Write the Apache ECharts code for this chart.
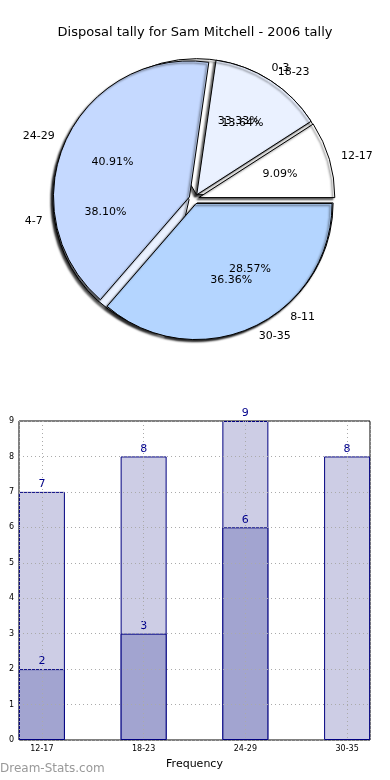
<!DOCTYPE html>
<html><head><meta charset="utf-8">
<script src="https://cdn.jsdelivr.net/npm/echarts@6/dist/echarts.min.js"></script>
<style>html,body{margin:0;padding:0;background:#fff}#c{width:390px;height:780px}</style>
</head><body><div id="c"></div>
<script>
var titleText = 'Disposal tally for Sam Mitchell - 2006 tally';
var pieFrontNames = ['12-17', '18-23', '24-29', '30-35'];
var pieFrontValues = [2, 3, 9, 8];
var pieBackNames = ['0-3', '4-7', '8-11'];
var pieBackValues = [7, 8, 6];
var barCategories = ['12-17', '18-23', '24-29', '30-35'];
var barLightValues = [7, 8, 9, 8];
var barDarkValues = [2, 3, 6, null];
var yTicks = [0, 1, 2, 3, 4, 5, 6, 7, 8, 9];

var pieColors = ['#ffffff', '#eaf1ff', '#c5d9ff', '#b4d5ff'];
var FONT = 'DejaVu Sans';
var R = 136, CX = 194, CY = 199, OFF = 5;

function pieData(names, values) {
  return names.map(function (n, i) {
    return { name: n, value: values[i], selected: true, itemStyle: { color: pieColors[i] } };
  });
}
function total(a) { return a.reduce(function (s, v) { return s + v; }, 0); }

function visiblePie(names, values) {
  return {
    type: 'pie', center: [CX, CY], radius: [0, R], startAngle: 0, clockwise: false,
    selectedMode: 'multiple', selectedOffset: OFF, avoidLabelOverlap: false,
    animation: false, silent: true,
    labelLayout: { hideOverlap: false },
    itemStyle: { borderColor: '#000', borderWidth: 1, shadowColor: 'rgba(0,0,0,0.6)', shadowBlur: 2, shadowOffsetX: -2, shadowOffsetY: 2 },
    label: { show: true, position: 'outside', color: '#000', fontFamily: FONT, fontSize: 11, distanceToLabelLine: 2 },
    labelLine: { show: false, length: 10, length2: 0 },
    emphasis: { disabled: true },
    data: pieData(names, values)
  };
}
function pctPie(names, values) {
  var t = total(values);
  return {
    type: 'pie', center: [CX, CY], radius: [R * 0.2, R], startAngle: 0, clockwise: false,
    selectedMode: 'multiple', selectedOffset: OFF, avoidLabelOverlap: false,
    animation: false, silent: true, z: 5,
    labelLayout: { hideOverlap: false },
    itemStyle: { color: 'rgba(0,0,0,0)', borderWidth: 0 },
    label: { show: true, position: 'inside', color: '#000', fontFamily: FONT, fontSize: 11,
      formatter: function (p) { return (p.value / t * 100).toFixed(2) + '%'; } },
    labelLine: { show: false },
    emphasis: { disabled: true },
    data: names.map(function (n, i) { return { name: n, value: values[i], selected: true }; })
  };
}

var chart = echarts.init(document.getElementById('c'), null, { renderer: 'canvas' });
chart.setOption({
  backgroundColor: '#fff',
  animation: false,
  title: { text: titleText, left: 'center', top: 21, textStyle: { fontFamily: FONT, fontSize: 13, fontWeight: 'normal', color: '#000' } },
  graphic: [{ type: 'text', left: 0, top: 763, style: { text: 'Dream-Stats.com', fontFamily: FONT, fontSize: 12, fontWeight: 'normal', fill: '#999' } }],
  grid: { left: 19, right: 20, top: 421, bottom: 40, show: true, borderColor: '#000', borderWidth: 1, backgroundColor: 'transparent' },
  xAxis: {
    type: 'value', min: -0.225, max: 3.225, minInterval: 1, maxInterval: 1, z: 3,
    name: 'Frequency', nameLocation: 'middle', nameGap: 19,
    nameTextStyle: { fontFamily: FONT, fontSize: 11, color: '#000' },
    axisLine: { show: false },
    axisTick: { show: false },
    axisLabel: { fontFamily: FONT, fontSize: 8, color: '#000', margin: 5, showMinLabel: false, showMaxLabel: false,
      formatter: function (v) { var i = Math.round(v); return (Math.abs(v - i) < 1e-6 && i >= 0 && i < barCategories.length) ? barCategories[i] : ''; } },
    splitLine: { show: true, lineStyle: { color: '#aaa', type: [1, 3], width: 1 } }
  },
  yAxis: {
    type: 'value', min: yTicks[0], max: yTicks[yTicks.length - 1], interval: 1, z: 3,
    axisLine: { show: false },
    axisTick: { show: false },
    axisLabel: { fontFamily: FONT, fontSize: 8, color: '#000', margin: 5 },
    splitLine: { show: true, lineStyle: { color: '#aaa', type: [1, 3], width: 1 } }
  },
  series: [
    visiblePie(pieBackNames, pieBackValues),
    visiblePie(pieFrontNames, pieFrontValues),
    pctPie(pieBackNames, pieBackValues),
    pctPie(pieFrontNames, pieFrontValues),
    {
      type: 'bar', barWidth: 46, barGap: '-100%', z: 2,
      itemStyle: { color: '#cdcde5', borderColor: '#000080', borderWidth: 1 },
      label: { show: true, position: 'top', distance: 2, color: '#00008b', fontFamily: FONT, fontSize: 11 },
      data: barCategories.map(function (c, i) { return [i, barLightValues[i]]; })
    },
    {
      type: 'bar', barWidth: 46, barGap: '-100%', z: 2,
      itemStyle: { color: '#a2a4d0', borderColor: '#000080', borderWidth: 1 },
      label: { show: true, position: 'top', distance: 2, color: '#00008b', fontFamily: FONT, fontSize: 11 },
      data: barCategories.map(function (c, i) { return [i, barDarkValues[i]]; }).filter(function (d) { return d[1] != null; })
    }
  ]
});
</script></body></html>
